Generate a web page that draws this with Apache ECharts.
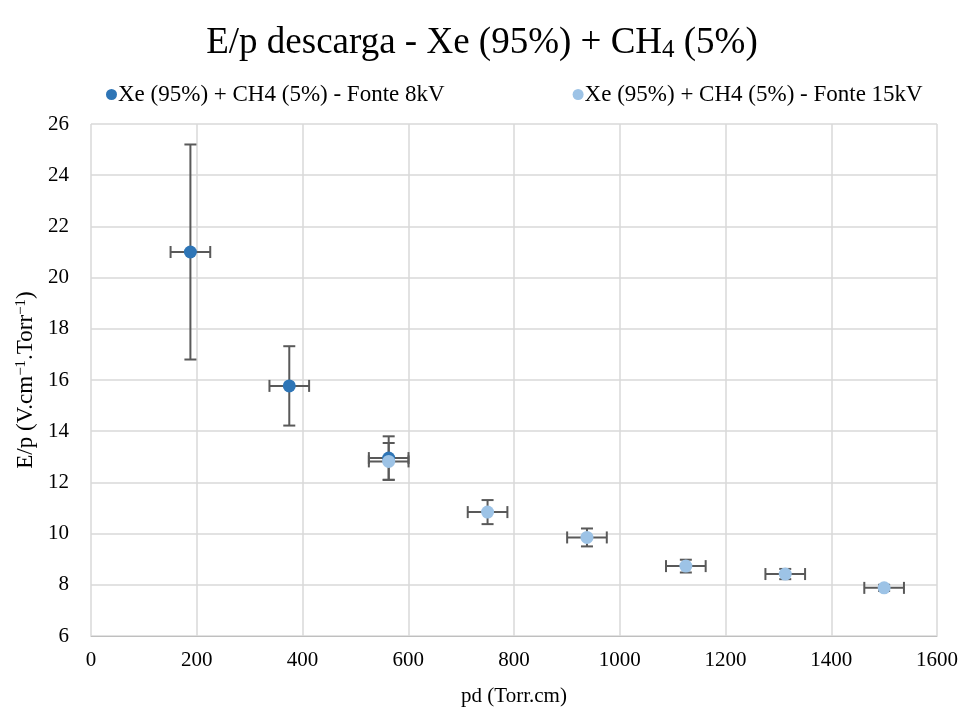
<!DOCTYPE html>
<html>
<head>
<meta charset="utf-8">
<script src="https://cdn.jsdelivr.net/npm/echarts@6/dist/echarts.min.js"></script>
<style>
  html, body { margin: 0; padding: 0; background: #fff; }
  #chart { width: 964px; height: 713px; }
</style>
</head>
<body>
<div id="chart"></div>
<script>
// dados
const pd8kV = [188, 375, 563]
const ep8kV = [21.0, 15.77, 12.95]
const epErr8kV = [4.2, 1.55, 0.85]
const pd15kV = [563, 750, 938, 1125, 1313, 1500]
const ep15kV = [12.82, 10.84, 9.85, 8.73, 8.42, 7.88]
const epErr15kV = [0.72, 0.47, 0.35, 0.25, 0.2, 0.12]
const pdErr = 37.5
const names = ['Xe (95%) + CH4 (5%) - Fonte 8kV', 'Xe (95%) + CH4 (5%) - Fonte 15kV']
const colors = ['#2E75B6', '#9DC3E6']

const font = 'Liberation Serif, Times New Roman, serif'

function points(xs, ys) {
  return xs.map((x, i) => [x, ys[i]])
}
function errRows(xs, ys, errs) {
  return xs.map((x, i) => [x, ys[i], errs[i], pdErr])
}

// barras de erro (horizontal + vertical, com remates)
function renderErr(params, api) {
  const x = api.value(0)
  const y = api.value(1)
  const ey = api.value(2)
  const ex = api.value(3)
  const top = api.coord([x, y + ey])
  const bot = api.coord([x, y - ey])
  const left = api.coord([x - ex, y])
  const right = api.coord([x + ex, y])
  const c = 6
  const style = { stroke: '#595959', lineWidth: 2 }
  const seg = (x1, y1, x2, y2) => ({ type: 'line', shape: { x1, y1, x2, y2 }, style })
  return {
    type: 'group',
    children: [
      seg(top[0], top[1], bot[0], bot[1]),
      seg(top[0] - c, top[1], top[0] + c, top[1]),
      seg(bot[0] - c, bot[1], bot[0] + c, bot[1]),
      seg(left[0], left[1], right[0], right[1]),
      seg(left[0], left[1] - c, left[0], left[1] + c),
      seg(right[0], right[1] - c, right[0], right[1] + c)
    ]
  }
}

const myChart = echarts.init(document.getElementById('chart'))
myChart.setOption({
  animation: false,
  title: {
    text: '{a|E/p descarga - Xe (95%) + CH}{s|4}{a| (5%)}',
    left: 'center',
    top: 19,
    textStyle: {
      rich: {
        a: { fontFamily: font, fontSize: 37, fontWeight: 'normal', color: '#000' },
        s: { fontFamily: font, fontSize: 25, fontWeight: 'normal', color: '#000', padding: [14, 0, 0, 0] }
      }
    }
  },
  legend: {
    top: 78,
    left: 101,
    itemGap: 128,
    itemWidth: 11,
    itemHeight: 11,
    icon: 'circle',
    data: names,
    textStyle: { fontFamily: font, fontSize: 23, color: '#000', padding: [0, 0, 0, -4] }
  },
  grid: { left: 91, right: 27, top: 124, bottom: 77 },
  xAxis: {
    type: 'value',
    min: 0,
    max: 1600,
    interval: 200,
    name: 'pd (Torr.cm)',
    nameLocation: 'middle',
    nameGap: 50,
    nameTextStyle: { fontFamily: font, fontSize: 21, color: '#000' },
    axisLine: { show: true, lineStyle: { color: '#BFBFBF', width: 1 } },
    axisTick: { show: false },
    axisLabel: { fontFamily: font, fontSize: 21, color: '#000', margin: 14, formatter: v => String(v) },
    splitLine: { show: true, lineStyle: { color: '#D9D9D9', width: 1.5 } }
  },
  yAxis: {
    type: 'value',
    min: 6,
    max: 26,
    interval: 2,
    name: '{a|E/p (V.cm}{s|−1}{a|.Torr}{s|−1}{a|)}',
    nameLocation: 'middle',
    nameGap: 50,
    nameTextStyle: {
      rich: {
        a: { fontFamily: font, fontSize: 23, color: '#000' },
        s: { fontFamily: font, fontSize: 15, color: '#000', padding: [0, 0, 10, 0] }
      }
    },
    axisLine: { show: false },
    axisTick: { show: false },
    axisLabel: { fontFamily: font, fontSize: 21, color: '#000', margin: 22 },
    splitLine: { show: true, lineStyle: { color: '#D9D9D9', width: 1.5 } }
  },
  series: [
    {
      type: 'custom',
      renderItem: renderErr,
      data: errRows(pd8kV, ep8kV, epErr8kV),
      z: 2,
      silent: true
    },
    {
      type: 'custom',
      renderItem: renderErr,
      data: errRows(pd15kV, ep15kV, epErr15kV),
      z: 2,
      silent: true
    },
    {
      name: names[0],
      type: 'scatter',
      data: points(pd8kV, ep8kV),
      symbol: 'circle',
      symbolSize: 13,
      itemStyle: { color: colors[0], opacity: 1 },
      z: 3
    },
    {
      name: names[1],
      type: 'scatter',
      data: points(pd15kV, ep15kV),
      symbol: 'circle',
      symbolSize: 13,
      itemStyle: { color: colors[1], opacity: 1 },
      z: 4
    }
  ]
})
</script>
</body>
</html>
